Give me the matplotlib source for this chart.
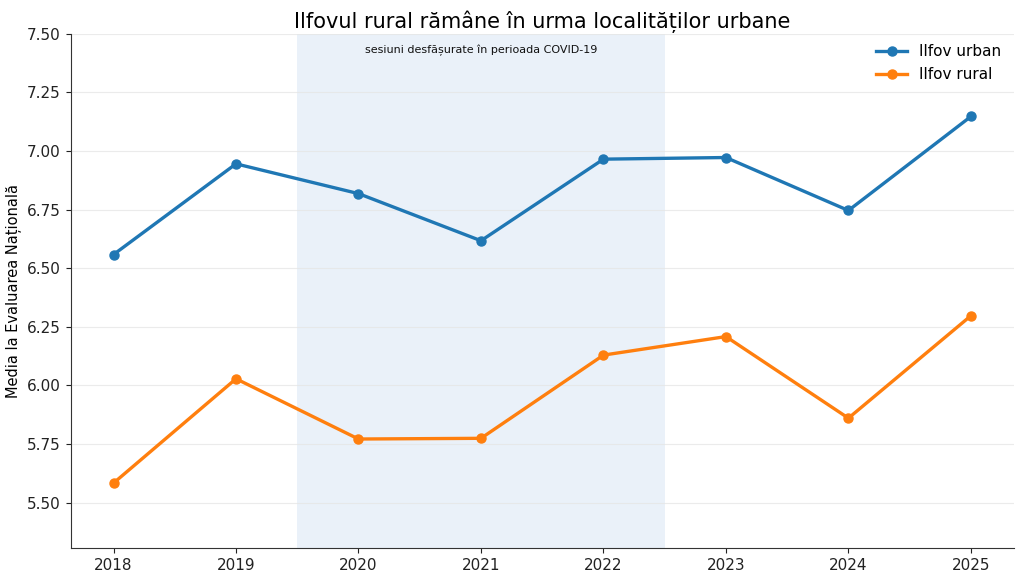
import matplotlib
matplotlib.use("Agg")
import matplotlib.pyplot as plt

years = [2018, 2019, 2020, 2021, 2022, 2023, 2024, 2025]
urban = [6.558, 6.945, 6.818, 6.617, 6.965, 6.972, 6.746, 7.147]
rural = [5.583, 6.028, 5.771, 5.774, 6.129, 6.208, 5.860, 6.297]
covid_start, covid_end = 2019.5, 2022.5


def main():
    fig, ax = plt.subplots(figsize=(10.24, 5.82), dpi=100)

    ax.axvspan(covid_start, covid_end, color="#dce8f5", alpha=0.6, lw=0, zorder=0)
    ax.text((covid_start + covid_end) / 2, 7.455, "sesiuni desfășurate în perioada COVID-19",
            ha="center", va="top", fontsize=8, color="#111111")

    ax.plot(years, urban, marker="o", lw=2.4, ms=6.5, color="#1f77b4", label="Ilfov urban")
    ax.plot(years, rural, marker="o", lw=2.4, ms=6.5, color="#ff7f0e", label="Ilfov rural")

    ax.set_ylim(5.305, 7.5)
    ax.set_yticks([5.5, 5.75, 6.0, 6.25, 6.5, 6.75, 7.0, 7.25, 7.5])
    ax.set_xticks(years)
    ax.grid(axis="y", color="#e6e6e6", lw=0.8, alpha=0.8)
    ax.set_axisbelow(True)

    for s in ["top", "right"]:
        ax.spines[s].set_visible(False)
    for s in ["left", "bottom"]:
        ax.spines[s].set_color("#333333")
    ax.tick_params(colors="#222222", labelsize=11)

    ax.set_ylabel("Media la Evaluarea Națională", fontsize=10.5)
    ax.set_title("Ilfovul rural rămâne în urma localităților urbane", fontsize=15, pad=4)
    ax.legend(loc="upper right", frameon=False, fontsize=11, borderaxespad=0.3,
              bbox_to_anchor=(0.998, 1.0))

    fig.subplots_adjust(left=0.069, right=0.99, top=0.942, bottom=0.058)
    fig.savefig("out.png")


if __name__ == "__main__":
    main()
